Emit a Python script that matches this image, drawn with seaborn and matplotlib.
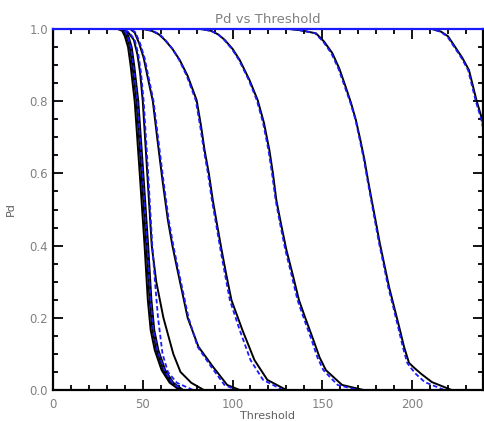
import matplotlib
matplotlib.use("Agg")
import matplotlib.pyplot as plt
import seaborn as sns
from matplotlib.ticker import MultipleLocator

# ---- curves: threshold values and matching Pd values ----
bundle1_thr = [0, 36, 38.5, 40, 41.8, 43.2, 45.5, 48.3, 51, 52.8, 54.4, 56.7, 60.5, 65, 70.5, 240]
bundle2_thr = [0, 37, 39.5, 41, 42.8, 44.2, 46.5, 49.3, 52, 53.8, 55.4, 57.7, 61.5, 66, 71.5, 240]
bundle3_thr = [0, 38, 40.5, 42, 43.8, 45.2, 47.5, 50.3, 53, 54.8, 56.4, 58.7, 62.5, 67, 72.5, 240]
bundle_blue_thr = [0, 37.5, 40, 41.5, 43.3, 44.7, 47, 49.8, 52.5, 54.3, 55.9, 58.2, 62, 66.5, 72, 240]
bundle_pd = [1.0, 1.0, 0.995, 0.98, 0.95, 0.9, 0.8, 0.6, 0.4, 0.25, 0.166, 0.11, 0.055, 0.02, 0.0, 0.0]

c3_thr = [0, 39, 42, 45, 47, 48.5, 50, 52.5, 55, 57.5, 61.5, 67, 71, 77, 84, 240]
c3_blue_thr = [0, 39.5, 42.5, 45.5, 47.5, 49, 50.5, 53, 55.3, 56.8, 58.5, 61, 64, 69, 78, 240]
c3_pd = [1.0, 1.0, 0.99, 0.97, 0.93, 0.88, 0.8, 0.6, 0.4, 0.3, 0.2, 0.1, 0.05, 0.02, 0.0, 0.0]

c4_thr = [0, 43, 45.5, 48, 50.5, 53, 55.6, 58, 61, 64, 66.5, 69, 72, 75, 81, 89, 97, 104, 240]
c4_blue_thr = [0, 43.5, 46, 48.5, 51, 53.5, 56, 58.5, 61.5, 64.5, 67, 69.5, 72.5, 75.5, 80.5, 88, 95.5, 102, 240]
c4_pd = [1.0, 1.0, 0.99, 0.96, 0.92, 0.86, 0.8, 0.7, 0.58, 0.47, 0.4, 0.34, 0.27, 0.2, 0.12, 0.065, 0.014, 0.0, 0.0]

c5_thr = [0, 50, 55, 59, 62.2, 66.5, 70.6, 75, 80, 82.5, 84.4, 86.8, 89, 91.5, 93.9, 96.5, 99.4, 105.5, 112.2, 119.4, 130, 240]
c5_blue_thr = [0, 50.5, 55.5, 59.5, 62.5, 66.5, 70.3, 74.5, 79.5, 82, 84, 86.3, 88.5, 91, 93.3, 95.8, 98.5, 104, 110, 117, 128, 240]
c5_pd = [1.0, 1.0, 0.995, 0.985, 0.97, 0.945, 0.914, 0.87, 0.803, 0.73, 0.665, 0.6, 0.526, 0.455, 0.388, 0.32, 0.249, 0.166, 0.083, 0.028, 0.0, 0.0]

c6_thr = [0, 82, 88, 92, 95.6, 100, 104, 109.4, 114, 117.5, 120.5, 122.5, 124.4, 127, 130, 133.5, 137, 140.5, 145, 148.5, 152, 161, 173, 240]
c6_blue_thr = [0, 82, 88, 92, 95.3, 99.6, 103.6, 109, 113.5, 117, 120, 122, 124, 126.5, 129.4, 132.8, 136.2, 139.6, 144, 147.3, 150.6, 158.5, 170, 240]
c6_pd = [1.0, 1.0, 0.995, 0.985, 0.97, 0.945, 0.914, 0.859, 0.803, 0.74, 0.665, 0.6, 0.526, 0.46, 0.388, 0.32, 0.249, 0.2, 0.139, 0.09, 0.055, 0.014, 0.0, 0.0]

c7_thr = [0, 131.7, 137, 141.5, 146.5, 151, 155.6, 159.5, 163, 166, 168.7, 171.3, 173.5, 175.5, 177.5, 179.8,
          182, 184.6, 187.2, 190, 192.8, 195.5, 198.3, 201.5, 205, 211, 222, 240]
c7_blue_thr = [0, 131.7, 137, 141.5, 146, 150.5, 155, 159, 162.5, 165.7, 168.5, 171, 173.2, 175.2, 177.2, 179.4,
               181.6, 184.2, 186.7, 189.5, 192.2, 194.8, 197.3, 199.5, 202, 207, 218, 240]
c7_pd = [1.0, 1.0, 0.997, 0.993, 0.988, 0.965, 0.933, 0.89, 0.84, 0.795, 0.748, 0.69, 0.637, 0.58, 0.526, 0.466,
         0.407, 0.346, 0.285, 0.23, 0.175, 0.12, 0.075, 0.06, 0.045, 0.022, 0.0, 0.0]

c8_thr = [0, 211, 216, 220, 224, 228, 231.7, 234, 236, 239, 242, 246]
c8_blue_thr = [0, 211, 215.5, 219.5, 223.5, 227.5, 231.2, 233.5, 235.5, 238.5, 241.5, 245.5]
c8_pd = [1.0, 1.0, 0.993, 0.98, 0.95, 0.92, 0.886, 0.84, 0.8, 0.75, 0.68, 0.6]

# blue trace hugging the left axis
edge_thr = [0, 0]
edge_pd = [0.62, 1.0]

black_curves = [
    (bundle1_thr, bundle_pd), (bundle2_thr, bundle_pd), (bundle3_thr, bundle_pd),
    (c3_thr, c3_pd), (c4_thr, c4_pd), (c5_thr, c5_pd),
    (c6_thr, c6_pd), (c7_thr, c7_pd), (c8_thr, c8_pd),
]
blue_curves = [
    (bundle_blue_thr, bundle_pd), (c3_blue_thr, c3_pd), (c4_blue_thr, c4_pd),
    (c5_blue_thr, c5_pd), (c6_blue_thr, c6_pd), (c7_blue_thr, c7_pd),
    (c8_blue_thr, c8_pd),
]

sns.set_style("ticks")
plt.rcParams['font.family'] = ['DejaVu Sans']

fig, ax = plt.subplots(figsize=(4.84, 4.21), dpi=100)
fig.subplots_adjust(left=53 / 484, right=483 / 484, top=1 - 29 / 421, bottom=1 - 390 / 421)

for thr, pdv in black_curves:
    sns.lineplot(x=thr, y=pdv, color='black', linewidth=1.4, sort=False,
                 estimator=None, ax=ax)
for thr, pdv in blue_curves:
    sns.lineplot(x=thr, y=pdv, color='#1a1aff', linewidth=1.3, sort=False,
                 estimator=None, linestyle=(0, (2.5, 1.5)), ax=ax)
sns.lineplot(x=edge_thr, y=edge_pd, color='#1a1aff', linewidth=1.5,
             sort=False, estimator=None, ax=ax)

ax.set_xlim(0, 239.5)
ax.set_ylim(0, 1.0)
ax.xaxis.set_major_locator(MultipleLocator(50))
ax.xaxis.set_minor_locator(MultipleLocator(10))
ax.yaxis.set_major_locator(MultipleLocator(0.2))
ax.yaxis.set_minor_locator(MultipleLocator(0.05))
ax.yaxis.set_major_formatter(plt.FormatStrFormatter('%.1f'))

ax.tick_params(which='both', direction='in', top=True, right=True,
               color='black', labelcolor='#808080', labelsize=8.5)
ax.tick_params(which='major', length=7, width=1.3)
ax.tick_params(which='minor', length=3.5, width=1.3)
ax.tick_params(axis='x', pad=6)

for side in ['left', 'right', 'bottom']:
    ax.spines[side].set_color('black')
    ax.spines[side].set_linewidth(1.6)
ax.spines['top'].set_color('#1a1aff')
ax.spines['top'].set_linewidth(1.6)

ax.set_title('Pd vs Threshold', fontsize=9.5, color='#808080', pad=4)
ax.set_xlabel('Threshold', fontsize=8, color='#606060', labelpad=0)
ax.set_ylabel('Pd', fontsize=8, color='#606060', labelpad=10)

plt.savefig("out.png", dpi=100)
plt.close()
